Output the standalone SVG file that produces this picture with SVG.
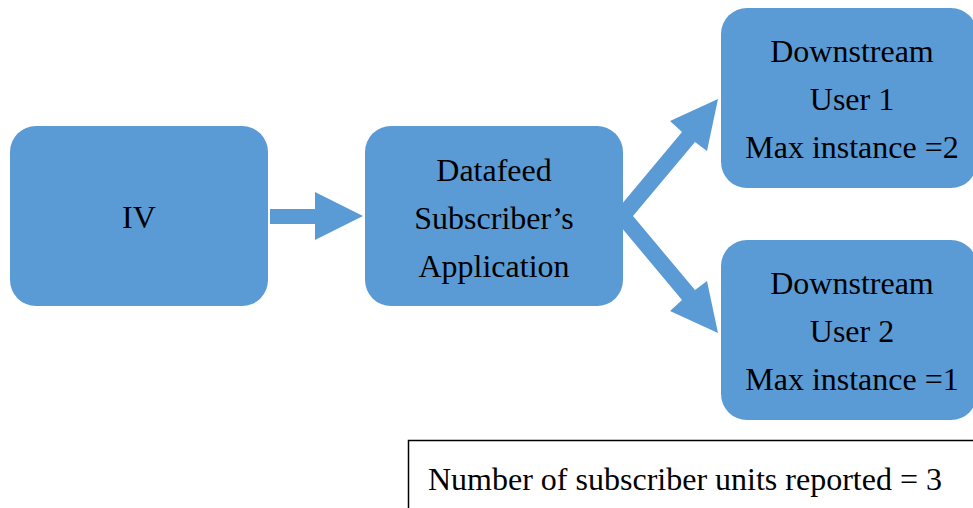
<svg xmlns="http://www.w3.org/2000/svg" width="973" height="508" viewBox="0 0 973 508">
<style>
.node{fill:#5B9BD5}
.t{font-family:"Liberation Serif","Times New Roman",serif;font-size:32px;fill:#000;text-anchor:middle}
.conn{fill:#5B9BD5}
</style>
<rect width="973" height="508" fill="#fff"/>
<g id="connectors">
<polygon class="conn" points="270,209 315,209 315,192 363,216 315,240 315,224 270,224"/>
<polygon class="conn" points="621,205 682,132 670,121 718,99 707,151 695,142 633,216 695,290 707,281 718,333 670,311 682,300 621,227"/>
</g>
<g id="iv">
<rect class="node" x="10" y="126" width="258" height="180" rx="26"/>
<text class="t" x="139" y="228">IV</text>
</g>
<g id="datafeed">
<rect class="node" x="365" y="126" width="258" height="180" rx="26"/>
<text class="t" x="494" y="181">Datafeed</text>
<text class="t" x="494" y="229">Subscriber’s</text>
<text class="t" x="494" y="277">Application</text>
</g>
<g id="user1">
<rect class="node" x="721" y="8" width="256" height="180" rx="26"/>
<text class="t" x="852" y="62">Downstream</text>
<text class="t" x="852" y="110">User 1</text>
<text class="t" x="852" y="158">Max instance =2</text>
</g>
<g id="user2">
<rect class="node" x="721" y="240" width="256" height="180" rx="26"/>
<text class="t" x="852" y="294">Downstream</text>
<text class="t" x="852" y="342">User 2</text>
<text class="t" x="852" y="390">Max instance =1</text>
</g>
<g id="note">
<rect x="408.5" y="440.5" width="580" height="80" fill="#fff" stroke="#000" stroke-width="1.5"/>
<text class="t" x="428" y="490" style="text-anchor:start">Number of subscriber units reported = 3</text>
</g>
</svg>
